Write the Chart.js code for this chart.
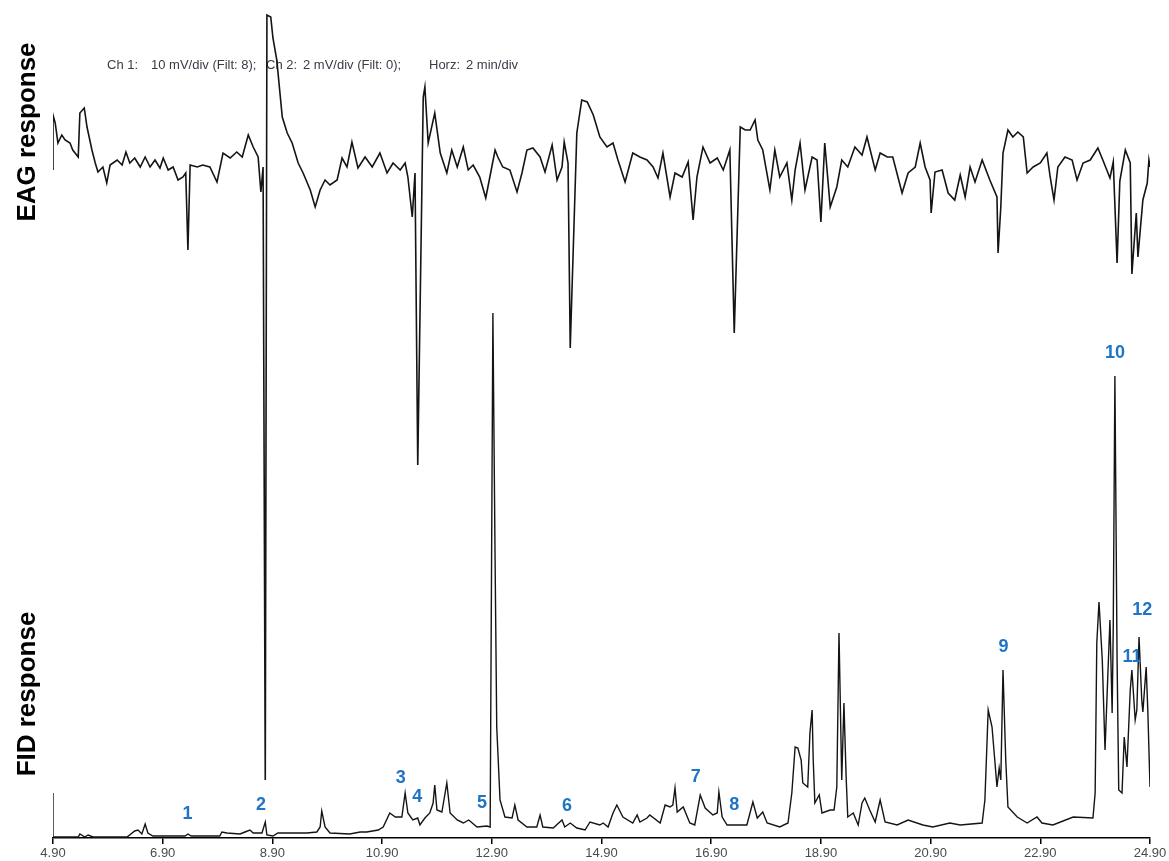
<!DOCTYPE html>
<html>
<head>
<meta charset="utf-8">
<title>GC-EAD</title>
<script src="https://cdn.jsdelivr.net/npm/chart.js@4.4.1/dist/chart.umd.min.js"></script>
<style>
  html, body { margin: 0; padding: 0; background: #fff; }
  canvas { display: block; }
</style>
</head>
<body>
<canvas id="gcead" width="1169" height="861"></canvas>
<script>
// retention time axis (min)
const xTicks = [4.9, 6.9, 8.9, 10.9, 12.9, 14.9, 16.9, 18.9, 20.9, 22.9, 24.9];

// antenna (EAG) trace: time in min, signal in mV
const eagTime = [
  4.90,4.90,4.94,4.99,5.06,5.12,5.21,5.26,5.36,5.39,
  5.47,5.52,5.61,5.67,5.72,5.81,5.88,5.94,6.07,6.16,
  6.23,6.30,6.39,6.49,6.58,6.67,6.76,6.85,6.91,7.00,
  7.09,7.18,7.27,7.32,7.36,7.40,7.53,7.63,7.76,7.89,
  8.00,8.13,8.25,8.35,8.46,8.55,8.64,8.69,8.73,8.77,
  8.80,8.87,8.91,8.98,9.08,9.17,9.26,9.37,9.46,9.59,
  9.68,9.77,9.86,9.95,10.08,10.17,10.26,10.35,10.46,10.59,
  10.72,10.86,10.99,11.10,11.23,11.32,11.37,11.45,11.50,11.55,
  11.65,11.68,11.74,11.86,11.96,12.08,12.17,12.27,12.38,12.47,
  12.56,12.68,12.79,12.90,12.96,13.01,13.10,13.23,13.36,13.45,
  13.54,13.65,13.78,13.87,14.00,14.09,14.18,14.22,14.29,14.33,
  14.45,14.54,14.64,14.75,14.87,15.00,15.11,15.20,15.33,15.47,
  15.60,15.73,15.84,15.93,16.02,16.15,16.24,16.37,16.48,16.57,
  16.64,16.75,16.88,17.01,17.12,17.24,17.32,17.43,17.52,17.61,
  17.70,17.75,17.84,17.97,18.06,18.15,18.28,18.37,18.43,18.52,
  18.61,18.74,18.83,18.90,18.97,19.07,19.19,19.28,19.39,19.52,
  19.65,19.74,19.89,19.98,20.11,20.21,20.38,20.49,20.62,20.71,
  20.80,20.89,20.91,20.98,21.11,21.22,21.34,21.44,21.53,21.62,
  21.71,21.84,21.98,22.11,22.13,22.18,22.22,22.31,22.40,22.49,
  22.59,22.66,22.77,22.90,23.02,23.08,23.15,23.22,23.35,23.48,
  23.57,23.68,23.81,23.95,24.04,24.17,24.23,24.30,24.35,24.45,
  24.54,24.57,24.65,24.68,24.77,24.85,24.88,24.90
];
const eagMv = [
  1.0,6.5,5.7,3.7,4.5,4.0,3.7,3.0,2.3,6.7,
  7.2,5.3,3.0,1.7,0.8,1.3,-0.3,1.5,2.0,1.5,
  2.8,1.7,2.2,1.3,2.3,1.3,2.0,1.2,2.2,1.0,
  1.3,0.0,0.3,0.7,-7.0,1.5,1.3,1.5,1.3,-0.2,
  2.7,2.2,2.8,2.3,4.5,3.3,2.3,-1.2,1.3,-60.0,
  16.5,16.3,14.2,12.0,6.3,4.7,3.7,1.7,0.7,-1.0,
  -2.7,-1.0,0.0,-0.5,0.0,2.2,1.3,3.8,1.2,2.3,
  1.3,2.7,0.7,1.7,1.0,1.7,0.3,-3.7,0.7,-28.5,
  8.3,9.3,3.7,6.7,2.7,0.7,3.0,1.3,3.3,1.0,
  1.5,0.3,-1.8,1.3,3.0,2.3,1.3,1.0,-1.2,0.7,
  3.0,3.2,2.3,0.8,3.5,0.0,1.3,3.8,1.7,-16.8,
  4.7,8.0,7.8,6.5,4.3,3.3,3.7,2.0,-0.2,2.7,
  2.3,2.0,1.3,0.2,2.7,-1.7,0.7,0.3,1.8,-4.0,
  0.3,3.3,1.7,2.2,1.0,3.0,-15.3,5.3,5.0,5.0,
  6.0,4.0,3.0,-1.0,3.0,0.3,1.7,-2.0,1.0,3.7,
  -1.0,2.3,2.0,-4.2,3.7,-2.7,-0.7,2.0,1.3,3.3,
  2.5,4.3,1.0,2.7,2.3,2.3,-1.3,0.7,1.3,3.7,
  1.3,0.0,-3.3,0.8,1.0,-1.3,-2.0,0.5,-1.7,1.3,
  -0.2,2.0,0.0,-1.7,-7.3,-2.7,2.7,5.0,4.3,4.8,
  4.3,0.7,1.3,1.7,2.7,0.3,-2.0,1.3,2.3,2.0,
  0.0,1.7,2.0,3.2,2.0,0.2,1.8,-8.3,-0.1,3.0,
  1.7,-9.4,-3.3,-7.7,-2.0,-0.3,2.0,1.3
];

// flame ionisation detector trace: time in min, signal (relative)
const fidTime = [
  4.90,4.90,5.36,5.39,5.48,5.54,5.63,6.25,6.39,6.45,
  6.52,6.58,6.63,6.72,7.31,7.36,7.42,7.94,7.98,8.07,
  8.31,8.40,8.49,8.55,8.71,8.77,8.80,8.91,9.00,9.28,
  9.53,9.71,9.77,9.80,9.86,9.95,10.31,10.50,10.62,10.83,
  10.92,11.04,11.14,11.26,11.32,11.37,11.46,11.55,11.59,11.68,
  11.77,11.83,11.86,11.90,11.99,12.08,12.14,12.27,12.38,12.48,
  12.63,12.81,12.87,12.92,12.96,12.99,13.05,13.14,13.27,13.32,
  13.38,13.54,13.72,13.78,13.83,14.02,14.18,14.23,14.33,14.45,
  14.60,14.69,14.87,14.93,15.02,15.11,15.18,15.29,15.47,15.55,
  15.60,15.73,15.78,15.97,16.06,16.15,16.20,16.24,16.28,16.39,
  16.51,16.60,16.70,16.79,16.93,17.01,17.04,17.10,17.19,17.55,
  17.66,17.74,17.84,17.92,18.15,18.30,18.37,18.43,18.48,18.54,
  18.57,18.66,18.70,18.74,18.76,18.79,18.87,18.92,19.07,19.14,
  19.19,19.23,19.28,19.32,19.36,19.39,19.49,19.58,19.65,19.70,
  19.79,19.89,19.98,20.07,20.29,20.49,20.76,20.94,21.25,21.44,
  21.84,21.89,21.95,22.02,22.07,22.11,22.15,22.18,22.22,22.27,
  22.31,22.48,22.66,22.84,22.93,23.13,23.50,23.86,23.90,23.93,
  23.97,24.03,24.08,24.13,24.17,24.21,24.23,24.26,24.30,24.33,
  24.39,24.43,24.48,24.54,24.57,24.63,24.66,24.70,24.75,24.77,
  24.83,24.86,24.90
];
const fidSignal = [
  4.5,0.1,0.1,0.4,0.1,0.3,0.1,0.1,0.7,0.8,
  0.4,1.4,0.5,0.2,0.2,0.4,0.2,0.2,0.6,0.5,
  0.4,0.6,0.8,0.5,0.5,1.6,0.3,0.2,0.5,0.5,
  0.5,0.6,1.1,2.7,1.1,0.5,0.4,0.6,0.6,0.8,
  1.1,2.5,2.1,2.1,4.5,2.5,1.8,2.0,1.3,2.0,
  2.5,3.5,5.3,2.8,2.6,5.5,2.5,1.8,1.5,1.8,
  1.1,1.2,1.1,52.5,27.8,11.1,3.8,2.1,2.0,3.3,
  1.8,1.1,1.1,2.3,1.1,1.0,1.8,1.1,1.5,1.0,
  0.8,1.6,1.3,1.5,1.1,2.5,3.3,2.1,1.5,2.3,
  1.6,2.0,2.3,1.5,3.3,3.1,3.3,5.0,2.6,3.1,
  1.5,1.3,4.3,3.0,2.3,2.5,4.6,2.1,1.3,1.3,
  3.6,2.0,2.6,1.5,1.1,1.5,4.5,9.1,9.0,7.8,
  5.5,5.1,10.5,12.8,7.8,3.5,4.3,2.5,2.8,2.8,
  5.1,20.5,5.8,13.5,6.1,2.1,2.5,1.3,3.5,4.0,
  2.8,1.6,3.8,1.6,1.3,1.8,1.3,1.1,1.5,1.3,
  1.5,3.8,12.8,11.1,7.8,5.1,7.0,5.8,16.8,7.8,
  3.1,2.1,1.5,2.1,1.5,1.3,2.1,2.0,4.5,19.5,
  23.6,17.8,8.8,16.1,21.8,12.5,21.1,46.2,17.8,4.8,
  4.5,10.1,7.1,14.8,16.8,11.8,12.8,20.1,13.8,12.6,
  17.1,12.8,5.1
];

// numbered FID peaks with an antennal response
const peakIds = ['1','2','3','4','5','6','7','8','9','10','11','12'];
const peakTime = [7.35, 8.69, 11.24, 11.54, 12.72, 14.27, 16.62, 17.32, 22.23, 24.26, 24.57, 24.76];
const peakLabelY = [2.4, 3.3, 6.0, 4.1, 3.5, 3.2, 6.1, 3.3, 19.1, 48.5, 18.1, 22.8];

const settingsText = [
  ['Ch 1:', 107], ['10 mV/div (Filt: 8);', 151],
  ['Ch 2:', 266], ['2 mV/div (Filt: 0);', 303],
  ['Horz:', 429], ['2 min/div', 466]
];

const toPoints = (xs, ys) => xs.map((x, i) => ({ x: x, y: ys[i] }));

const traceText = {
  id: 'traceText',
  beforeDatasetsDraw(chart) {
    const ctx = chart.ctx;
    ctx.save();
    ctx.font = '13px Arial, "Liberation Sans", sans-serif';
    ctx.fillStyle = '#3b3b48';
    ctx.textBaseline = 'middle';
    ctx.textAlign = 'left';
    settingsText.forEach(([txt, x]) => ctx.fillText(txt, x, 65));
    ctx.restore();
  },
  afterDatasetsDraw(chart) {
    const ctx = chart.ctx;
    const xs = chart.scales.x;
    const ys = chart.scales.yFid;
    ctx.save();
    // channel names along the left edge
    ctx.font = 'bold 26px Arial, "Liberation Sans", sans-serif';
    ctx.fillStyle = '#000';
    ctx.textAlign = 'center';
    ctx.textBaseline = 'alphabetic';
    [['EAG response', 132], ['FID response', 694]].forEach(([txt, cy]) => {
      ctx.save();
      ctx.translate(35, cy);
      ctx.rotate(-Math.PI / 2);
      ctx.fillText(txt, 0, 0);
      ctx.restore();
    });
    // peak numbers
    ctx.font = 'bold 18px Arial, "Liberation Sans", sans-serif';
    ctx.fillStyle = '#1f74c4';
    ctx.textBaseline = 'middle';
    peakIds.forEach((id, i) => {
      ctx.fillText(id, xs.getPixelForValue(peakTime[i]), ys.getPixelForValue(peakLabelY[i]));
    });
    ctx.restore();
  }
};

const ctx = document.getElementById('gcead').getContext('2d');
new Chart(ctx, {
  type: 'line',
  data: {
    datasets: [
      {
        label: 'EAG',
        data: toPoints(eagTime, eagMv),
        yAxisID: 'yEag',
        borderColor: '#141414',
        borderWidth: 1.6,
        pointRadius: 0,
        tension: 0
      },
      {
        label: 'FID',
        data: toPoints(fidTime, fidSignal),
        yAxisID: 'yFid',
        borderColor: '#141414',
        borderWidth: 1.4,
        pointRadius: 0,
        tension: 0
      }
    ]
  },
  options: {
    responsive: false,
    animation: false,
    layout: { padding: { left: 53, right: 19, top: 0, bottom: 0 } },
    plugins: {
      legend: { display: false },
      tooltip: { enabled: false }
    },
    scales: {
      x: {
        type: 'linear',
        min: 4.9,
        max: 24.9,
        afterBuildTicks: (scale) => { scale.ticks = xTicks.map(v => ({ value: v })); },
        afterFit: (scale) => { scale.height = 23; },
        ticks: {
          autoSkip: false,
          maxRotation: 0,
          padding: 2,
          color: '#4a4a4a',
          font: { family: 'Arial, "Liberation Sans", sans-serif', size: 13 },
          callback: (v) => Number(v).toFixed(2)
        },
        grid: { drawOnChartArea: false, drawTicks: true, tickLength: 6, color: '#000', lineWidth: 1.5 },
        border: { display: true, color: '#000', width: 1.6 }
      },
      yEag: {
        display: false,
        min: -65.8,
        max: 18
      },
      yFid: {
        display: false,
        min: 0,
        max: 83.8
      }
    }
  },
  plugins: [traceText]
});
</script>
</body>
</html>
